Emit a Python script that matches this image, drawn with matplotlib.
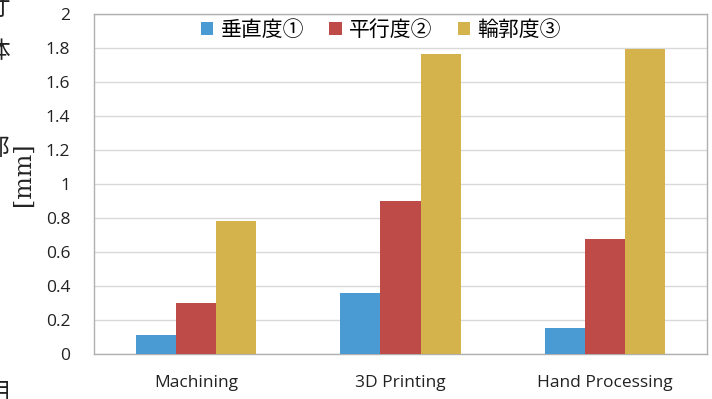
import numpy as np
import matplotlib
matplotlib.use("Agg")
import matplotlib.pyplot as plt

plt.rcParams['font.family'] = ['Open Sans', 'Noto Sans CJK JP', 'DejaVu Sans']

categories = ["Machining", "3D Printing", "Hand Processing"]
series_names = ["垂直度①", "平行度②", "輪郭度③"]
perpendicularity = [0.11, 0.36, 0.155]
parallelism = [0.30, 0.90, 0.675]
profile = [0.785, 1.765, 1.795]
yticks = [0, 0.2, 0.4, 0.6, 0.8, 1, 1.2, 1.4, 1.6, 1.8, 2]
ytick_labels = ["0", "0.2", "0.4", "0.6", "0.8", "1", "1.2", "1.4", "1.6", "1.8", "2"]

COLORS = ['#4A9AD4', '#BE4B48', '#D4B24C']
W, H = 712, 399

fig = plt.figure(figsize=(W / 100, H / 100), dpi=100)
ax = fig.add_axes([94 / W, 1 - 354 / H, (707 - 94) / W, (354 - 14) / H])

x = np.arange(len(categories))
bw = 0.196
for i, (vals, name) in enumerate(zip([perpendicularity, parallelism, profile], series_names)):
    ax.bar(x + (i - 1) * bw, vals, width=bw, color=COLORS[i], label=name, zorder=3)

ax.set_xlim(-0.5, len(categories) - 0.5)
ax.set_ylim(0, 2)
ax.set_yticks(yticks)
ax.set_yticklabels(ytick_labels)
ax.set_xticks(x)
ax.set_xticklabels(categories)
ax.tick_params(axis='both', length=0, labelsize=12.5, colors='#222222')
ax.tick_params(axis='y', pad=17)
ax.tick_params(axis='x', pad=15)
ax.grid(axis='y', color='#D9D9D9', linewidth=1.0, zorder=0)
for s in ax.spines.values():
    s.set_color('#B0B0B0')
    s.set_linewidth(1.0)

ax.legend(loc='upper center', bbox_to_anchor=(0.468, 1.025), ncol=3, frameon=False,
          handlelength=0.6, handleheight=0.6, handletextpad=0.35,
          columnspacing=1.2, borderaxespad=0.25,
          prop={'family': ['Noto Sans CJK JP'], 'size': 15})

# clipped vertical axis title at the left edge
for ch, ypx in [("寸", 8), ("体", 52), ("部", 148), ("用", 392)]:
    fig.text(10 / W, 1 - ypx / H, ch, ha='right', va='center', fontsize=17,
             family=['Noto Sans CJK JP'], color='#222222')
fig.text(23 / W, 1 - 174 / H, "[mm]", ha='center', va='center', rotation=90,
         fontsize=17, family=['DejaVu Serif'], color='#222222')

fig.savefig("out.png", dpi=100)
